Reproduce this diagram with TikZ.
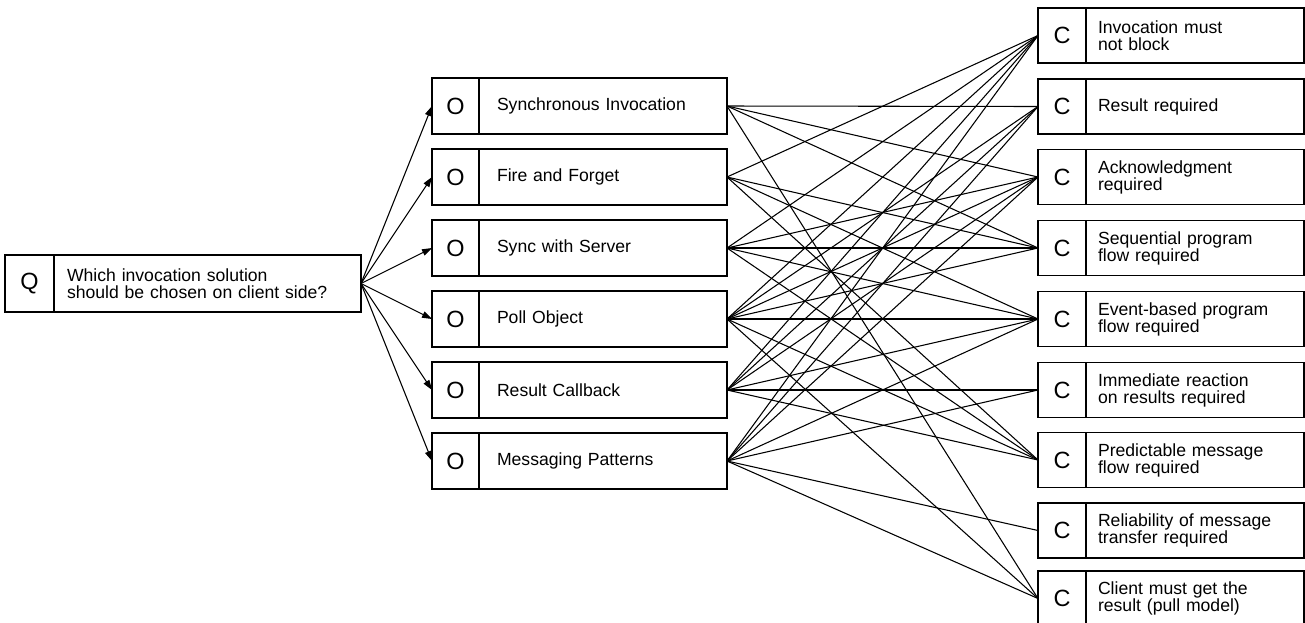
\documentclass[tikz,border=0pt]{standalone}
\usepackage{fontspec}
\setmainfont{Liberation Sans}
\usetikzlibrary{arrows.meta}
\begin{document}
\begin{tikzpicture}[x=0.75pt,y=-0.75pt,
  every node/.style={inner sep=0pt, outer sep=0pt, draw, line width=0.9pt},
  letterbox/.style={minimum height=42pt, minimum width=35.25pt, font=\fontsize{17.6}{18}\selectfont},
  qletter/.style={minimum height=42.75pt, minimum width=36.75pt, font=\fontsize{17.6}{18}\selectfont},
  cletter/.style={minimum height=41.25pt, minimum width=36pt, font=\fontsize{17.6}{18}\selectfont},
  otext/.style={anchor=west, minimum height=42pt, text width=159pt, inner xsep=13.5pt, align=left, font=\fontsize{13.2}{12.75}\selectfont},
  qtext/.style={anchor=west, minimum height=42.75pt, text width=210.75pt, inner xsep=9.75pt, align=left, font=\fontsize{13.2}{12.75}\selectfont},
  ctext/.style={anchor=west, minimum height=41.25pt, text width=145.5pt, inner xsep=9pt, align=left, font=\fontsize{13.2}{12.75}\selectfont},
  link/.style={line width=0.8pt},
  arr/.style={line width=0.8pt, -{Triangle[length=7.5pt,width=5pt]}}
]
\useasboundingbox (0,0) rectangle (1305,622);

% Question
\node[qletter] (q) at (29.5,283.5) {Q};
\node[qtext] (qt) at (q.east) {Which invocation solution\\should be chosen on client side?};

% Options
\foreach \i/\y/\t in {1/106/Synchronous Invocation, 2/177/Fire and Forget, 3/248/Sync with Server, 4/319/Poll Object, 5/390/Result Callback, 6/461/Messaging Patterns}{
  \node[letterbox] (o\i) at (455.5,\y) {\raisebox{-2.25pt}{O}};
  \node[otext] (ot\i) at (o\i.east) {\t};
}

% Criteria
\foreach \j/\y/\t in {1/35.5/{Invocation must\\not block}, 2/106.5/{Result required}, 3/177/{Acknowledgment\\required}, 4/248/{Sequential program\\flow required}, 5/319/{Event-based program\\flow required}, 6/390/{Immediate reaction\\on results required}, 7/460/{Predictable message\\flow required}, 8/530.5/{Reliability of message\\transfer required}, 9/598.5/{Client must get the\\result (pull model)}}{
  \node[cletter] (c\j) at (1062,\y) {\raisebox{-2.25pt}{C}};
  \node[ctext] (ct\j) at (c\j.east) {\t};
}

% Arrows from the question to the options
\foreach \i in {1,...,6}{
  \draw[arr] (qt.east) -- (o\i.west);
}

% Links from options to criteria
\foreach \o/\c in {1/2,1/3,1/4,1/9,
                   2/1,2/4,2/5,2/7,
                   3/1,3/3,3/4,3/5,3/7,
                   4/1,4/2,4/3,4/4,4/5,4/7,4/9,
                   5/1,5/2,5/3,5/5,5/6,5/7,
                   6/1,6/2,6/3,6/5,6/6,6/8,6/9}{
  \draw[link] (ot\o.east) -- (c\c.west);
}
\end{tikzpicture}
\end{document}
